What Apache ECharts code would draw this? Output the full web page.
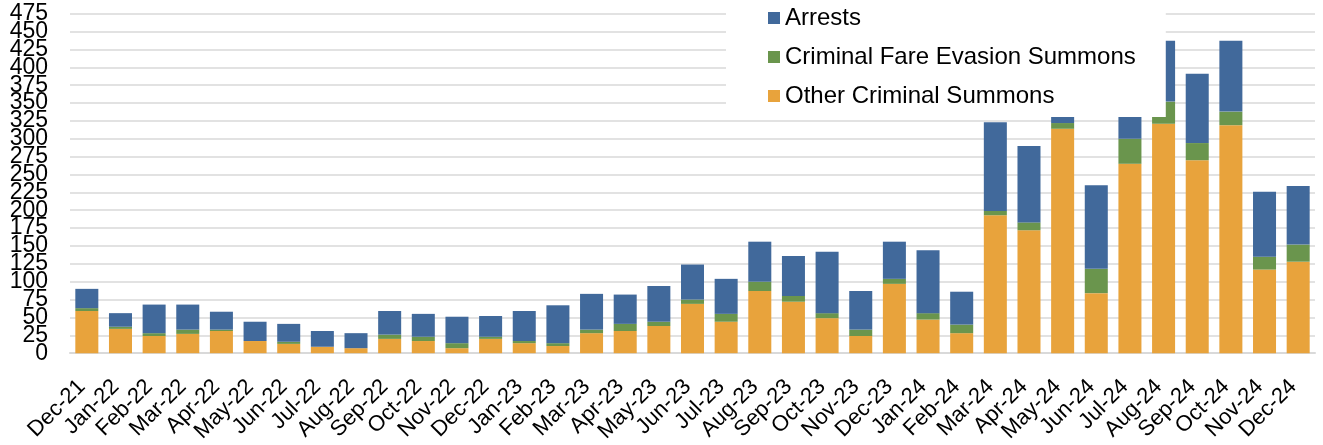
<!DOCTYPE html>
<html>
<head>
<meta charset="utf-8">
<style>
  html, body { margin: 0; padding: 0; background: #ffffff; }
  #chart { width: 1323px; height: 445px; }
</style>
<script src="https://cdn.jsdelivr.net/npm/echarts@6/dist/echarts.min.js"></script>
</head>
<body>
<div id="chart"></div>
<script>
// Monthly transit enforcement counts, Dec-21 through Dec-24
const months = [
  'Dec-21','Jan-22','Feb-22','Mar-22','Apr-22','May-22','Jun-22','Jul-22','Aug-22','Sep-22','Oct-22','Nov-22',
  'Dec-22','Jan-23','Feb-23','Mar-23','Apr-23','May-23','Jun-23','Jul-23','Aug-23','Sep-23','Oct-23','Nov-23',
  'Dec-23','Jan-24','Feb-24','Mar-24','Apr-24','May-24','Jun-24','Jul-24','Aug-24','Sep-24','Oct-24','Nov-24','Dec-24'
];

const otherSummons = [
  59, 34, 24, 27, 31, 17, 13, 9, 7, 20, 17, 7,
  20, 14, 10, 28, 31, 38, 69, 44, 87, 72, 49, 24,
  97, 47, 28, 193, 172, 314, 84, 265, 321, 270, 319, 117, 128
];

const fareEvasionSummons = [
  4, 3, 4, 6, 2, 0, 3, 0, 0, 6, 6, 7,
  3, 3, 4, 5, 10, 6, 6, 11, 13, 8, 7, 9,
  7, 9, 12, 6, 11, 8, 34, 35, 31, 24, 19, 18, 24
];

const arrests = [
  27, 19, 40, 35, 25, 27, 25, 22, 21, 33, 32, 37,
  29, 42, 53, 50, 41, 50, 49, 49, 56, 56, 86, 54,
  52, 88, 46, 124, 107, 45, 117, 60, 85, 97, 99, 91, 82
];

const yTicks = { min: 0, max: 475, step: 25 };

const FONT = '"Liberation Sans", Arial, sans-serif';
const GRID_GRAY = '#d9d9d9';

const yLabelStyle = {
  margin: 22,
  fontFamily: FONT,
  fontSize: 23,
  color: '#000000',
  hideOverlap: false
};

const chart = echarts.init(document.getElementById('chart'), null, { renderer: 'canvas' });

chart.setOption({
  animation: false,
  backgroundColor: '#ffffff',
  textStyle: { fontFamily: FONT, color: '#000000' },
  grid: { left: 70, right: 8, top: 13.7, bottom: 91.7, containLabel: false },
  legend: {
    data: ['Arrests', 'Criminal Fare Evasion Summons', 'Other Criminal Summons'],
    orient: 'vertical',
    left: 726,
    top: 0,
    padding: [6, 30, 9, 42],
    itemGap: 15,
    itemWidth: 12,
    itemHeight: 12,
    icon: 'rect',
    backgroundColor: '#ffffff',
    textStyle: { fontFamily: FONT, fontSize: 24, color: '#000000', lineHeight: 24 },
    selectedMode: false
  },
  xAxis: {
    type: 'category',
    data: months,
    axisTick: { show: false },
    axisLine: { lineStyle: { color: GRID_GRAY, width: 2 } },
    axisLabel: {
      rotate: 45,
      interval: 0,
      margin: 35,
      align: 'right',
      verticalAlign: 'bottom',
      lineHeight: 14,
      fontFamily: FONT,
      fontSize: 22,
      color: '#000000'
    }
  },
  yAxis: [
    {
      // inner ticks 25..450 plus gridlines
      type: 'value',
      min: yTicks.min,
      max: yTicks.max,
      interval: yTicks.step,
      axisLine: { show: false },
      axisTick: { show: false },
      axisLabel: Object.assign({ showMinLabel: false, showMaxLabel: false }, yLabelStyle),
      splitLine: { lineStyle: { color: GRID_GRAY, width: 1.5 } }
    },
    {
      // end ticks 0 and 475
      type: 'value',
      position: 'left',
      min: yTicks.min,
      max: yTicks.max,
      interval: yTicks.step,
      axisLine: { show: false },
      axisTick: { show: false },
      splitLine: { show: false },
      axisLabel: Object.assign({
        showMinLabel: true,
        showMaxLabel: true,
        formatter: v => (v === yTicks.min || v === yTicks.max) ? String(v) : ''
      }, yLabelStyle)
    }
  ],
  series: [
    {
      name: 'Other Criminal Summons',
      type: 'bar',
      stack: 'total',
      data: otherSummons,
      barCategoryGap: '31.6%',
      itemStyle: { color: '#e8a33c' }
    },
    {
      name: 'Criminal Fare Evasion Summons',
      type: 'bar',
      stack: 'total',
      data: fareEvasionSummons,
      itemStyle: { color: '#6a954d' }
    },
    {
      name: 'Arrests',
      type: 'bar',
      stack: 'total',
      data: arrests,
      itemStyle: { color: '#41699b' }
    }
  ]
});
</script>
</body>
</html>
